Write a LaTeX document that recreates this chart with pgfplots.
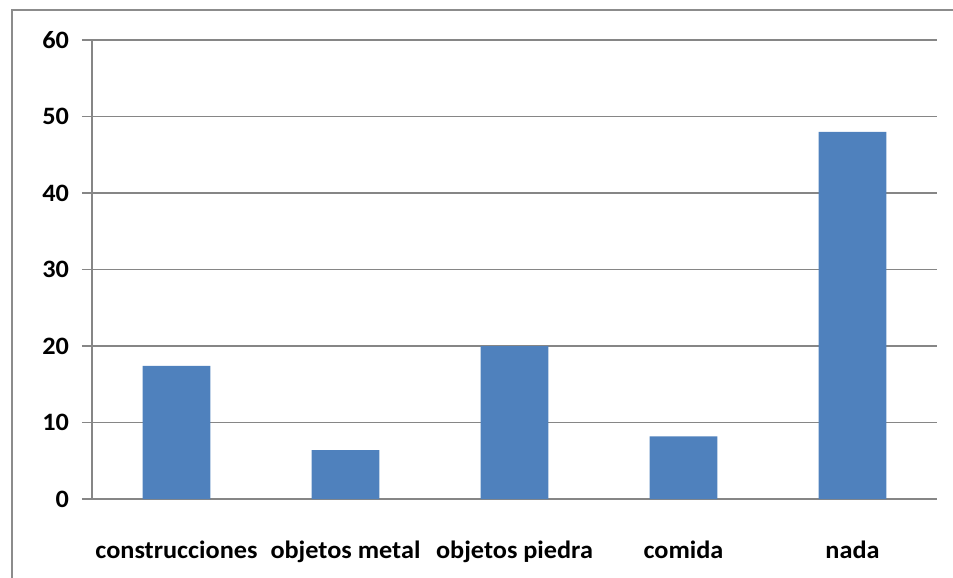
\documentclass[border=0pt]{standalone}
\usepackage{fontspec}
\setmainfont{Carlito}[FakeStretch=1.05]
\usepackage{pgfplots}
\pgfplotsset{compat=1.18}

\definecolor{barblue}{HTML}{4F81BD}
\definecolor{gridgray}{HTML}{868686}
\definecolor{framegray}{HTML}{8C8C8C}

\begin{document}
\begin{tikzpicture}
  % picture extent
  \path[use as bounding box] (-46pt,-39.5pt) rectangle (430.5pt,249.5pt);
  % chart frame (top and left edges)
  \draw[framegray, line width=0.8pt] (-40pt,-39.5pt) -- (-40pt,244.5pt) -- (430.5pt,244.5pt);
  \begin{axis}[
    at={(0,0)}, anchor=origin,
    scale only axis,
    width=422.5pt, height=229.5pt,
    xmin=0.5, xmax=5.5,
    ymin=0, ymax=60,
    axis x line*=bottom,
    axis y line*=left,
    axis line style={gridgray, line width=0.6pt},
    ytick={0,10,...,60},
    ymajorgrids,
    grid style={gridgray, line width=0.6pt},
    tick align=outside,
    major tick length=5pt,
    major tick style={gridgray, line width=0.6pt},
    xtick={1,2,3,4,5},
    xticklabels={construcciones, objetos metal, objetos piedra, comida, nada},
    x tick style={draw=none},
    extra x ticks={0.5,1.5,2.5,3.5,4.5,5.5},
    extra x tick labels={},
    extra x tick style={major tick length=3.5pt, tick style={draw=gridgray, line width=0.6pt}},
    /pgf/number format/assume math mode=true,
    tick label style={font=\fontsize{12.5}{14}\selectfont\bfseries},
    xticklabel style={anchor=base, yshift=-24.5pt},
    yticklabel style={anchor=east, xshift=-3pt},
    every tick label/.append style={text=black},
  ]
    \addplot[ybar, bar width=0.4, fill=barblue, draw=none]
      coordinates {(1,17.4) (2,6.4) (3,20) (4,8.2) (5,48)};
  \end{axis}
\end{tikzpicture}
\end{document}
